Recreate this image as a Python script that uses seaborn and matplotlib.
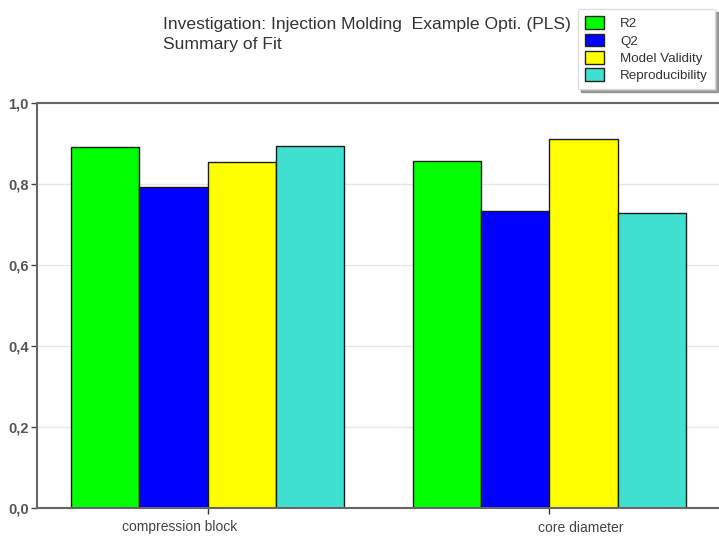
import matplotlib
matplotlib.use("Agg")
import matplotlib.pyplot as plt
import matplotlib.transforms as mtransforms
import seaborn as sns
import pandas as pd
from matplotlib.patches import Patch
from matplotlib.ticker import FuncFormatter

categories = ["compression block", "core diameter"]
series = ["R2", "Q2", "Model Validity", "Reproducibility"]
r2 = [0.891, 0.857]
q2 = [0.792, 0.733]
model_validity = [0.855, 0.911]
reproducibility = [0.894, 0.729]
colors = ["#00FF00", "#0000FF", "#FFFF00", "#40E0D0"]

rows = []
for s, vals in zip(series, [r2, q2, model_validity, reproducibility]):
    for c, v in zip(categories, vals):
        rows.append({"Response": c, "Measure": s, "Value": v})
df = pd.DataFrame(rows)

sns.set_theme(style="white")
plt.rcParams['font.family'] = ['Liberation Sans', 'DejaVu Sans']

fig = plt.figure(figsize=(7.19, 5.38), dpi=100)
ax = fig.add_axes([37/719, 1-508/538, 683/719, 405/538])

sns.barplot(data=df, x="Response", y="Value", hue="Measure", hue_order=series,
            order=categories, palette=colors, edgecolor="#1a1a1a", linewidth=1.0,
            width=0.8, ax=ax, legend=False, saturation=1)

ax.set_xlim(-0.5, 1.5)
ax.set_ylim(0, 1.0)
ax.set_yticks([0, 0.2, 0.4, 0.6, 0.8, 1.0])
ax.yaxis.set_major_formatter(FuncFormatter(lambda v, p: f"{v:.1f}".replace(".", ",")))
ax.grid(axis="y", color="#e6e6e6", linewidth=1)
ax.set_axisbelow(True)
ax.set_xlabel("")
ax.set_ylabel("")
for side in ["left", "bottom", "top"]:
    ax.spines[side].set_visible(True)
    ax.spines[side].set_color("#666666")
    ax.spines[side].set_linewidth(1.5)
ax.spines["right"].set_visible(False)
ax.tick_params(axis="y", which="major", direction="out", length=4, width=1,
               color="#444444", labelsize=10.5, labelcolor="#555555", pad=2, left=True)
ax.tick_params(axis="x", which="major", direction="out", length=4, width=1,
               color="#333333", labelsize=10, labelcolor="#444444", pad=5, bottom=True)
for lab in ax.get_yticklabels():
    lab.set_fontweight("bold")

# horizontal offsets of the category labels as in the reference
offsets = [-28, 32]
for lab, dx in zip(ax.get_xticklabels(), offsets):
    lab.set_transform(lab.get_transform() +
                      mtransforms.ScaledTranslation(dx/100, 0, fig.dpi_scale_trans))

fig.text(163/719, 1-24/538, "Investigation: Injection Molding  Example Opti. (PLS)",
         fontsize=12.6, color="#333333", va="center", ha="left")
fig.text(163/719, 1-44/538, "Summary of Fit", fontsize=12.6, color="#333333",
         va="center", ha="left")

handles = [Patch(facecolor=c, edgecolor="#222222", linewidth=1, label=s)
           for c, s in zip(colors, series)]
leg = fig.legend(handles=handles, loc="upper left", bbox_to_anchor=(578/719, 1-9/538),
                 borderaxespad=0.0,
                 frameon=True, fontsize=9.6, handlelength=1.4, handleheight=1.1,
                 handletextpad=1.2, labelspacing=0.25, borderpad=0.55, fancybox=False,
                 shadow=True)
leg.get_frame().set_edgecolor("#dddddd")
for t in leg.get_texts():
    t.set_color("#333333")

fig.savefig("out.png", dpi=100)
